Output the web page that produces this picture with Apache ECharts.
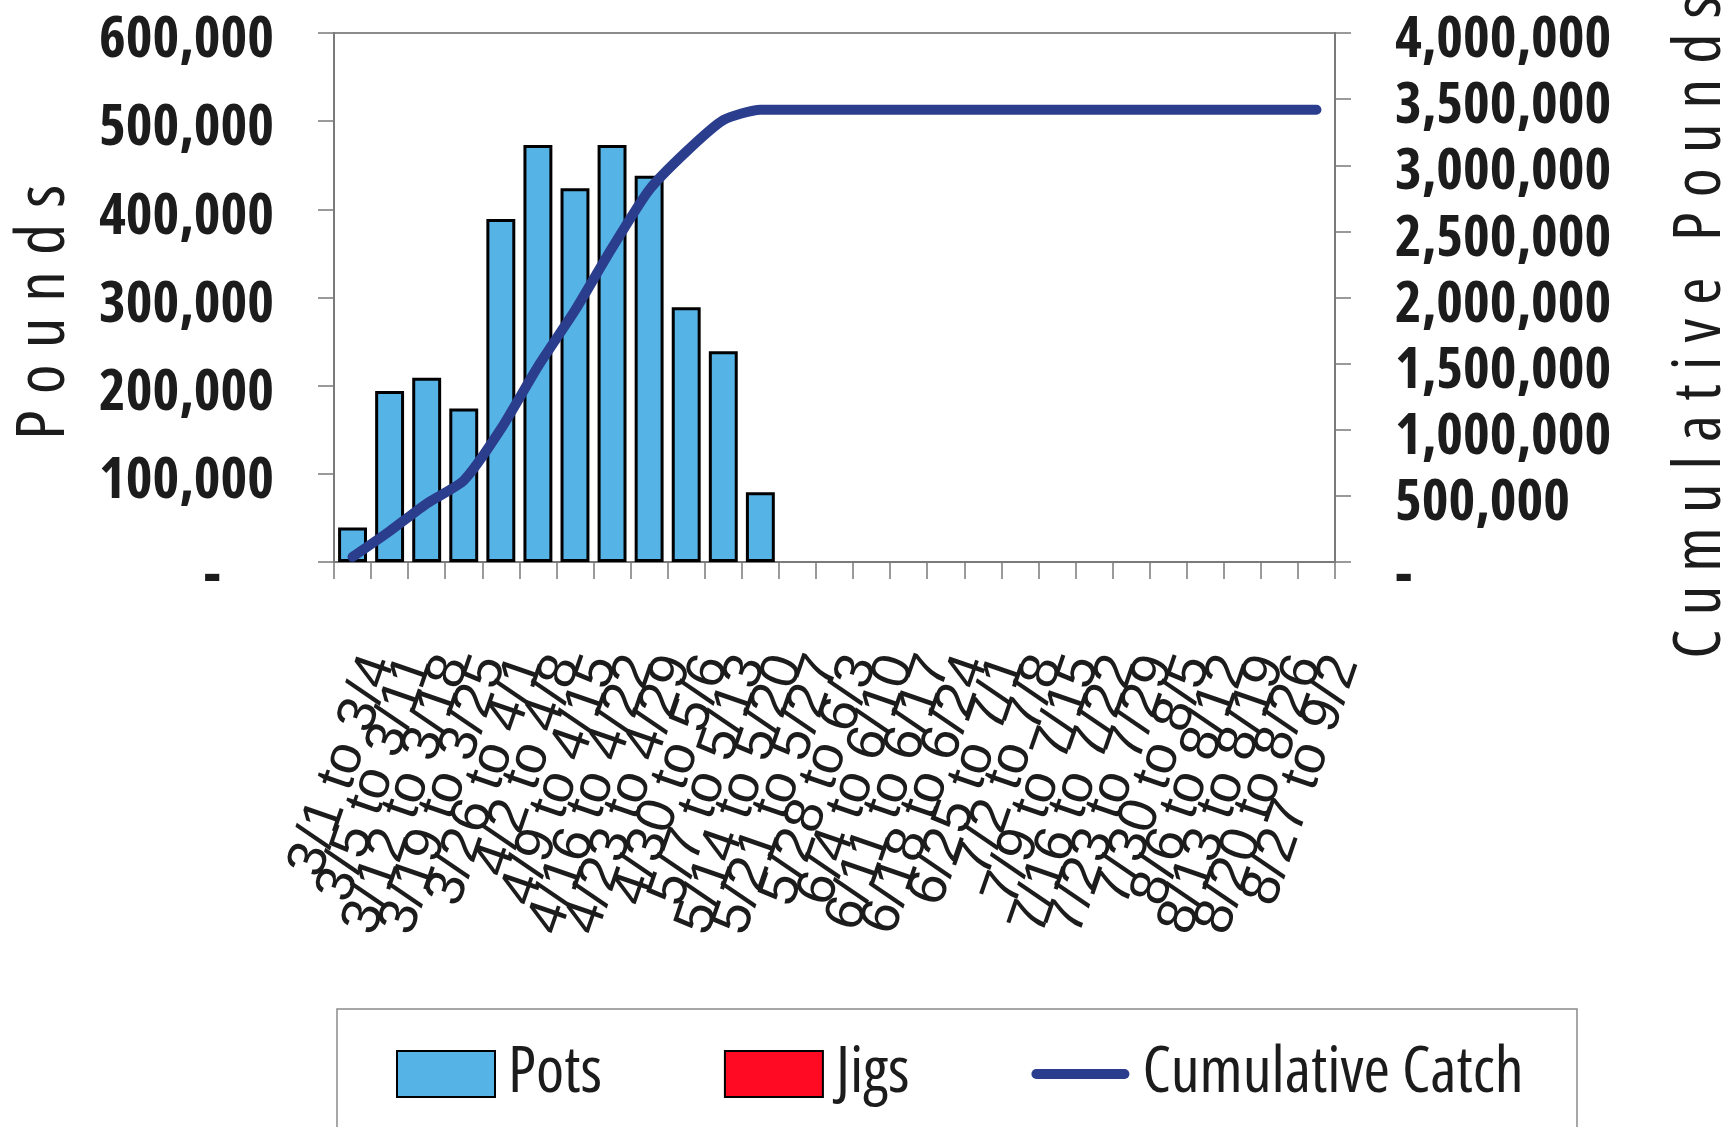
<!DOCTYPE html>
<html>
<head>
<meta charset="utf-8">
<title>Weekly Catch</title>
<script src="https://cdn.jsdelivr.net/npm/echarts@6/dist/echarts.min.js"></script>
<style>
  html, body { margin: 0; padding: 0; background: #ffffff; }
  #chart { width: 1733px; height: 1127px; }
</style>
</head>
<body>
<div id="chart"></div>
<script>
// Weekly periods of the season
const categories = [
  '3/1 to 3/4', '3/5 to 3/11', '3/12 to 3/18', '3/19 to 3/25', '3/26 to 4/1',
  '4/2 to 4/8', '4/9 to 4/15', '4/16 to 4/22', '4/23 to 4/29', '4/30 to 5/6',
  '5/7 to 5/13', '5/14 to 5/20', '5/21 to 5/27', '5/28 to 6/3', '6/4 to 6/10',
  '6/11 to 6/17', '6/18 to 6/24', '6/25 to 7/1', '7/2 to 7/8', '7/9 to 7/15',
  '7/16 to 7/22', '7/23 to 7/29', '7/30 to 8/5', '8/6 to 8/12', '8/13 to 8/19',
  '8/20 to 8/26', '8/27 to 9/2'
];

// Pounds landed per week by gear
const pots = [
  39000, 194000, 209000, 174000, 389000, 473000, 424000, 473000, 438000,
  289000, 239000, 79000, 0, 0, 0, 0, 0, 0, 0, 0, 0, 0, 0, 0, 0, 0, 0
];
const jigs = [
  0, 0, 0, 0, 0, 0, 0, 0, 0, 0, 0, 0, 0, 0, 0, 0, 0, 0, 0, 0, 0, 0, 0, 0, 0, 0, 0
];

// Running season total
const cumulative = [
  39000, 233000, 442000, 616000, 1005000, 1478000, 1902000, 2375000, 2813000,
  3102000, 3341000, 3420000, 3420000, 3420000, 3420000, 3420000, 3420000,
  3420000, 3420000, 3420000, 3420000, 3420000, 3420000, 3420000, 3420000,
  3420000, 3420000
];

// Axis scales
const poundsMax = 600000;
const poundsStep = 100000;
const cumulativeMax = 4000000;
const cumulativeStep = 500000;

// condensed faces: the weight string carries the font-stretch keyword into the canvas font
const NARROW = '"Open Sans", "Liberation Sans", sans-serif';
const NARROW_BOLD = 'bold condensed';
const NARROW_REG = '400 condensed';
const SANS = '"Liberation Sans", sans-serif';
const INK = '#1c1c1c';
const AXIS_GREY = '#7a7a7a';

// letter-spaced titles: one rich token per letter, tracking comes from token padding
function tracked(word, style, lastStyle) {
  const chars = word.split('');
  return chars.map((ch, i) => '{' + (i === chars.length - 1 && lastStyle ? lastStyle : style) + '|' + ch + '}').join('');
}
function letterStyle(size, track) {
  return { fontFamily: NARROW, fontWeight: NARROW_REG, fontSize: size, color: INK, padding: [0, track, 0, 0] };
}

const leftTitle = tracked('Pounds', 'l', 'e');
const rightTitle = tracked('Cumulative', 'c', 'g') + '{w| }' + tracked('Pounds', 'p', 'e');

function fmtThousands(v) {
  return v === 0 ? '{z|-}' : v.toLocaleString('en-US');
}

// zero-height bars get no outline so the baseline stays clean
function barItems(values) {
  return values.map(v => ({ value: v, itemStyle: { borderWidth: v ? 3 : 0 } }));
}

function draw() {
  const chart = echarts.init(document.getElementById('chart'));
  chart.setOption({
    animation: false,
    backgroundColor: '#ffffff',
    grid: {
      left: 334, right: 398, top: 33, bottom: 565,
      outerBoundsMode: 'none', containLabel: false,
      show: true, borderColor: '#8c8c8c', borderWidth: 2, backgroundColor: 'transparent'
    },
    graphic: [{
      type: 'rect',
      z: -1,
      shape: { x: 337, y: 1009, width: 1240, height: 160 },
      style: { fill: '#ffffff', stroke: '#8a8a8a', lineWidth: 1.5 }
    }],
    legend: {
      left: 396, top: 1042,
      itemWidth: 98, itemHeight: 46, itemGap: 122,
      padding: 0,
      textStyle: { fontFamily: NARROW, fontWeight: NARROW_REG, fontSize: 64, color: INK, padding: [0, 0, 0, 8] },
      data: [
        { name: 'Pots', icon: 'rect' },
        { name: 'Jigs', icon: 'rect' },
        { name: 'Cumulative Catch', icon: 'path://M0,0 L0,0 M98,46 L98,46 M4,18 L94,18 A5,5 0 0 1 94,28 L4,28 A5,5 0 0 1 4,18 Z' }
      ]
    },
    xAxis: {
      type: 'category',
      data: categories,
      axisLine: { lineStyle: { color: AXIS_GREY, width: 2 } },
      axisTick: { show: true, length: 17, lineStyle: { color: AXIS_GREY, width: 1.5 } },
      axisLabel: {
        interval: 0,
        rotate: 71,
        align: 'right',
        verticalAlign: 'top',
        lineHeight: 58,
        margin: 86,
        fontFamily: SANS,
        fontSize: 55,
        color: INK
      }
    },
    yAxis: [{
      type: 'value',
      min: 0, max: poundsMax, interval: poundsStep,
      name: leftTitle,
      nameLocation: 'middle',
      nameRotate: 90,
      nameGap: 255,
      nameMoveOverlap: false,
      nameTextStyle: {
        fontFamily: NARROW, fontWeight: NARROW_REG, fontSize: 68, color: INK, padding: [0, 30, 0, 0],
        rich: { l: letterStyle(68, 16), e: letterStyle(68, 0) }
      },
      axisLine: { show: true, lineStyle: { color: AXIS_GREY, width: 2 } },
      axisTick: { show: true, length: 16, lineStyle: { color: AXIS_GREY, width: 1.5 } },
      splitLine: { show: false },
      axisLabel: {
        margin: 60,
        fontFamily: NARROW, fontWeight: NARROW_BOLD, fontSize: 57, color: INK,
        padding: [16, 0, 0, 0],
        formatter: fmtThousands,
        rich: { z: { fontFamily: NARROW, fontWeight: NARROW_BOLD, fontSize: 57, color: INK, padding: [14, 53, 0, 0] } }
      }
    }, {
      type: 'value',
      min: 0, max: cumulativeMax, interval: cumulativeStep,
      position: 'right',
      name: rightTitle,
      nameLocation: 'middle',
      nameRotate: 90,
      nameGap: 333,
      nameMoveOverlap: false,
      nameTextStyle: {
        fontFamily: NARROW, fontWeight: NARROW_REG, fontSize: 66, color: INK, padding: [0, 60, 0, 0],
        rich: {
          c: letterStyle(66, 14),
          g: letterStyle(66, 24),
          p: letterStyle(66, 15),
          e: letterStyle(66, 0),
          w: letterStyle(66, 0)
        }
      },
      axisLine: { show: true, lineStyle: { color: AXIS_GREY, width: 2 } },
      axisTick: { show: true, length: 16, lineStyle: { color: AXIS_GREY, width: 1.5 } },
      splitLine: { show: false },
      axisLabel: {
        margin: 60,
        fontFamily: NARROW, fontWeight: NARROW_BOLD, fontSize: 57, color: INK,
        padding: [16, 0, 0, 0],
        formatter: fmtThousands,
        rich: { z: { fontFamily: NARROW, fontWeight: NARROW_BOLD, fontSize: 57, color: INK, padding: [14, 0, 0, 0] } }
      }
    }],
    series: [{
      name: 'Pots',
      type: 'bar',
      stack: 'gear',
      barCategoryGap: '22%',
      itemStyle: { color: '#56b3e6', borderColor: '#000000', borderWidth: 3 },
      data: barItems(pots)
    }, {
      name: 'Jigs',
      type: 'bar',
      stack: 'gear',
      itemStyle: { color: '#ff0a22', borderColor: '#000000', borderWidth: 3 },
      data: barItems(jigs)
    }, {
      name: 'Cumulative Catch',
      type: 'line',
      yAxisIndex: 1,
      smooth: 0.2,
      symbol: 'none',
      lineStyle: { color: '#2b3e8e', width: 10, cap: 'round', join: 'round' },
      itemStyle: { color: '#2b3e8e' },
      data: cumulative,
      z: 5
    }]
  });
}

Promise.all([
  document.fonts.load('bold condensed 57px "Open Sans"'),
  document.fonts.load('400 condensed 64px "Open Sans"'),
  document.fonts.load('55px "Liberation Sans"')
]).then(draw, draw);
</script>
</body>
</html>
